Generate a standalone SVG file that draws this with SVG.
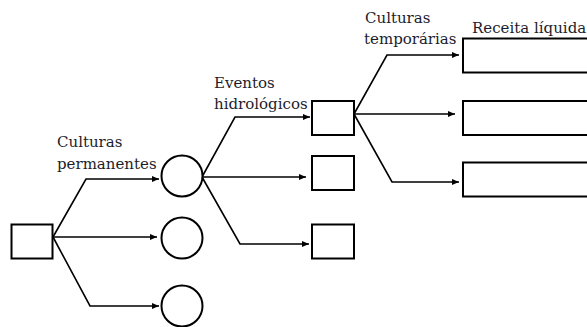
<svg xmlns="http://www.w3.org/2000/svg" width="587" height="327" viewBox="0 0 587 327">
<style>
.n{fill:#fff;stroke:#000;stroke-width:2}
.c{fill:none;stroke:#000;stroke-width:1.6}
.t{font-family:"DejaVu Serif","Liberation Serif",serif;font-size:15px;fill:#1c1c2c}
</style>
<defs>
<marker id="ah" markerUnits="userSpaceOnUse" markerWidth="8" markerHeight="8" refX="7" refY="3" orient="auto">
<path d="M0,0 L7,3 L0,6 z" fill="#000"/>
</marker>
</defs>
<rect width="587" height="327" fill="#fff"/>
<g id="connectors">
<polyline class="c" points="53,237 86,179 159,179" marker-end="url(#ah)"/>
<polyline class="c" points="53,237 157,237" marker-end="url(#ah)"/>
<polyline class="c" points="53,237 90,306 159,306" marker-end="url(#ah)"/>
<polyline class="c" points="202,177 235,117 310,117" marker-end="url(#ah)"/>
<polyline class="c" points="202,177 306,177" marker-end="url(#ah)"/>
<polyline class="c" points="202,177 240,244 309,244" marker-end="url(#ah)"/>
<polyline class="c" points="354,114 387,55 459,55" marker-end="url(#ah)"/>
<polyline class="c" points="354,114 455,114" marker-end="url(#ah)"/>
<polyline class="c" points="354,114 392,182 459,182" marker-end="url(#ah)"/>
</g>
<g id="root"><rect class="n" x="11.5" y="224.5" width="41" height="34"/></g>
<g id="circle1"><circle class="n" cx="182" cy="176" r="20.5"/></g>
<g id="circle2"><circle class="n" cx="182" cy="238" r="20.5"/></g>
<g id="circle3"><circle class="n" cx="182" cy="306" r="20.5"/></g>
<g id="box1"><rect class="n" x="312" y="101" width="42" height="34"/></g>
<g id="box2"><rect class="n" x="312" y="156" width="42" height="34"/></g>
<g id="box3"><rect class="n" x="312" y="224.5" width="42" height="34"/></g>
<g id="result1"><rect class="n" x="463" y="38.5" width="140" height="34"/></g>
<g id="result2"><rect class="n" x="463" y="101" width="140" height="34"/></g>
<g id="result3"><rect class="n" x="463" y="162.5" width="140" height="34"/></g>
<g id="labels">
<text class="t" x="57" y="147">Culturas</text>
<text class="t" x="57" y="169">permanentes</text>
<text class="t" x="214" y="88">Eventos</text>
<text class="t" x="214" y="109">hidrológicos</text>
<text class="t" x="365" y="23">Culturas</text>
<text class="t" x="364" y="44">temporárias</text>
<text class="t" x="472" y="33">Receita líquida</text>
</g>
</svg>
